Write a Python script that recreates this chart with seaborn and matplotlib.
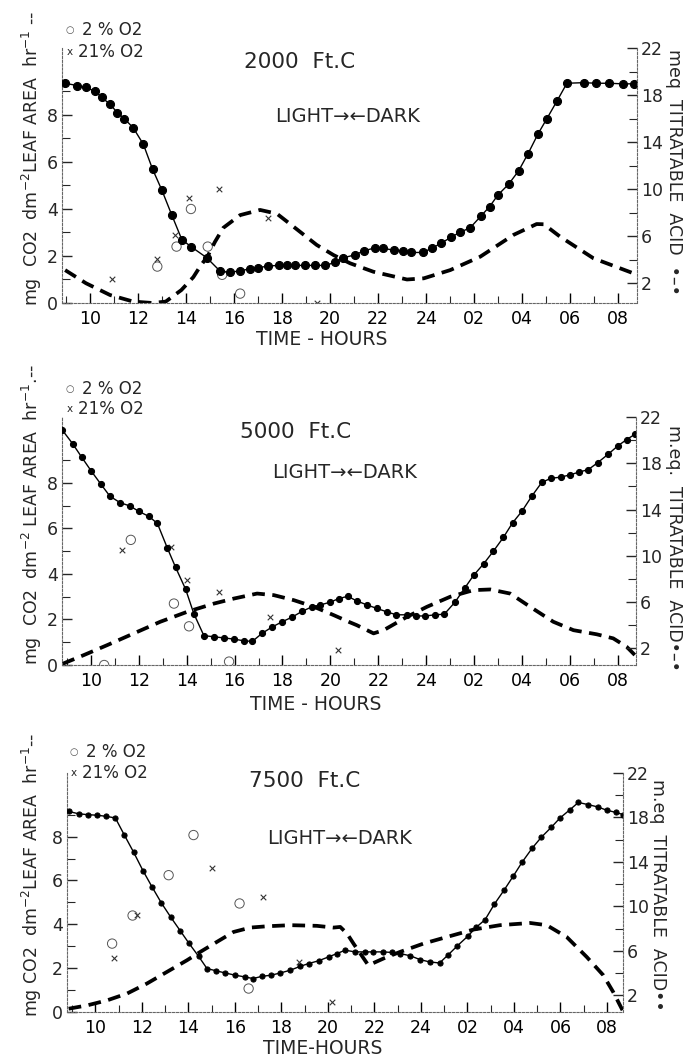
import numpy as np
import matplotlib
matplotlib.use("Agg")
import matplotlib.pyplot as plt
import seaborn as sns

# ---------------- data (time in continuous hours; 24+ = next day) ----------------
x_tick_hours = [10, 12, 14, 16, 18, 20, 22, 24, 26, 28, 30, 32]
x_tick_labels = ["10", "12", "14", "16", "18", "20", "22", "24", "02", "04", "06", "08"]
left_ticks = [0, 2, 4, 6, 8]
right_ticks = [2, 6, 10, 14, 18, 22]

titles = ["2000  Ft.C", "5000  Ft.C", "7500  Ft.C"]

# Panel 1 (2000 Ft.C)
p1_acid_t = [8.96, 9.47, 9.83, 10.21, 10.49, 10.83, 11.14, 11.42, 11.8, 12.22, 12.6, 12.99, 13.4, 13.82, 14.2,
             14.86, 15.42, 15.83, 16.25, 16.67, 17.0, 17.43, 17.85, 18.2, 18.54, 18.96, 19.38, 19.8, 20.2, 20.55,
             21.04, 21.42, 21.88, 22.22, 22.64, 23.03, 23.38, 23.85, 24.23, 24.63, 25.04, 25.39, 25.83, 26.28,
             26.64, 26.99, 27.43, 27.85, 28.24, 28.66, 29.03, 29.45, 29.86, 30.56, 31.08, 31.6, 32.2, 32.67]
p1_acid_v = [19.0, 18.8, 18.65, 18.3, 17.8, 17.2, 16.5, 16.0, 15.2, 13.8, 11.7, 9.9, 7.8, 5.7, 5.1,
             4.15, 3.0, 2.9, 3.05, 3.2, 3.3, 3.45, 3.5, 3.5, 3.5, 3.5, 3.5, 3.5, 3.75, 4.15,
             4.4, 4.75, 5.0, 4.95, 4.8, 4.75, 4.6, 4.6, 4.95, 5.4, 5.9, 6.3, 6.7, 7.7,
             8.5, 9.5, 10.4, 11.55, 13.0, 14.7, 16.0, 17.5, 19.0, 19.05, 19.0, 19.0, 18.95, 18.95]
p1_co2_t = [8.96, 9.83, 10.83, 11.8, 12.6, 13.15, 13.8, 14.3, 14.58, 14.9, 15.2, 15.55, 16.25, 17.08, 17.78,
            18.47, 19.44, 20.14, 20.83, 21.8, 23.2, 23.9, 25.0, 26.25, 27.64, 28.6, 28.9, 29.58, 30.97, 32.64]
p1_co2_v = [1.4, 0.84, 0.34, 0.06, 0.0, 0.06, 0.55, 1.1, 1.55, 2.0, 2.6, 3.2, 3.74, 3.96, 3.8,
            3.25, 2.47, 2.04, 1.69, 1.33, 1.0, 1.05, 1.4, 1.97, 2.9, 3.36, 3.35, 2.82, 1.9, 1.26]
p1_o2low_t = [12.8, 13.6, 14.2, 14.9, 15.5, 16.25]
p1_o2low_v = [1.55, 2.4, 4.0, 2.4, 1.2, 0.4]
p1_o2high_t = [10.9, 12.78, 13.54, 14.14, 15.35, 17.43, 19.44]
p1_o2high_v = [1.0, 1.86, 2.9, 4.45, 4.84, 3.6, 0.0]

# Panel 2 (5000 Ft.C)
p2_acid_t = [8.82, 9.24, 9.63, 10.03, 10.42, 10.8, 11.22, 11.64, 12.0, 12.43, 12.78, 13.19, 13.54, 13.96, 14.3,
             14.72, 15.14, 15.56, 15.97, 16.39, 16.74, 17.15, 17.57, 17.99, 18.4, 18.82, 19.24, 19.58, 20.0,
             20.35, 20.72, 21.1, 21.53, 21.94, 22.36, 22.75, 23.2, 23.58, 23.96, 24.37, 24.75, 25.2, 25.6,
             25.97, 26.39, 26.8, 27.22, 27.6, 27.99, 28.4, 28.82, 29.2, 29.61, 30.0, 30.39, 30.76, 31.15,
             31.6, 31.99, 32.36, 32.7]
p2_acid_v = [20.85, 19.7, 18.5, 17.3, 16.2, 15.15, 14.6, 14.3, 13.85, 13.4, 12.8, 10.7, 9.0, 7.1, 5.0,
             3.1, 3.0, 2.9, 2.8, 2.65, 2.6, 3.3, 3.85, 4.3, 4.7, 5.2, 5.6, 5.75, 6.0,
             6.3, 6.5, 6.1, 5.75, 5.45, 5.15, 4.9, 4.9, 4.8, 4.8, 4.9, 4.95, 6.0, 7.2,
             8.3, 9.3, 10.4, 11.6, 12.85, 13.85, 15.15, 16.35, 16.7, 16.8, 17.0, 17.25, 17.45, 18.05,
             18.8, 19.5, 20.05, 20.5]
p2_co2_t = [8.82, 9.72, 10.7, 11.8, 12.9, 14.03, 15.14, 15.97, 16.94, 17.64, 18.47, 19.31, 20.14, 20.76,
            21.1, 21.8, 22.22, 23.2, 24.03, 25.0, 25.97, 26.67, 27.5, 28.33, 29.3, 30.14, 31.11, 31.8, 32.36, 32.7]
p2_co2_v = [0.05, 0.44, 0.88, 1.39, 1.9, 2.34, 2.7, 2.92, 3.14, 3.07, 2.85, 2.56, 2.19, 1.9,
            1.75, 1.39, 1.53, 2.12, 2.56, 3.0, 3.29, 3.32, 3.14, 2.56, 1.9, 1.53, 1.35, 1.17, 0.8, 0.44]
p2_o2low_t = [10.56, 11.67, 13.47, 14.1, 15.77]
p2_o2low_v = [0.0, 5.5, 2.7, 1.7, 0.15]
p2_o2high_t = [8.85, 11.32, 13.33, 14.03, 15.35, 17.47, 20.3]
p2_o2high_v = [0.05, 5.04, 5.2, 3.73, 3.2, 2.12, 0.66]

# Panel 3 (7500 Ft.C)
p3_acid_t = [8.85, 9.28, 9.67, 10.07, 10.47, 10.86, 11.25, 11.65, 12.05, 12.45, 12.84, 13.25, 13.65, 14.03,
             14.44, 14.8, 15.19, 15.59, 16.02, 16.42, 16.78, 17.16, 17.55, 17.95, 18.38, 18.81, 19.17, 19.6,
             20.03, 20.39, 20.74, 21.17, 21.6, 21.96, 22.36, 22.75, 23.1, 23.54, 23.97, 24.37, 24.8, 25.18,
             25.57, 26.01, 26.37, 26.76, 27.16, 27.59, 27.98, 28.36, 28.79, 29.17, 29.6, 29.98, 30.41, 30.77,
             31.2, 31.6, 31.99, 32.39, 32.7]
p3_acid_v = [18.54, 18.33, 18.25, 18.2, 18.1, 17.95, 16.4, 14.85, 13.2, 11.7, 10.3, 9.0, 7.8, 6.66,
             5.5, 4.4, 4.2, 4.0, 3.8, 3.65, 3.5, 3.7, 3.8, 4.0, 4.25, 4.6, 4.85, 5.1,
             5.45, 5.75, 6.05, 5.9, 5.9, 5.9, 5.9, 5.85, 5.75, 5.55, 5.2, 5.0, 4.9, 5.65,
             6.45, 7.3, 8.1, 8.8, 10.2, 11.5, 12.75, 14.0, 15.25, 16.2, 17.1, 17.95, 18.7, 19.35,
             19.15, 18.95, 18.65, 18.45, 18.25]
p3_co2_t = [8.85, 9.64, 10.5, 11.36, 12.22, 13.08, 13.94, 14.51, 15.23, 15.94, 16.66, 17.38, 18.38, 19.52,
            20.24, 20.53, 20.82, 21.1, 21.74, 22.39, 23.1, 24.11, 25.11, 26.26, 27.4, 28.7, 29.41, 30.27,
            31.13, 31.84, 32.27, 32.67]
p3_co2_v = [0.15, 0.3, 0.53, 0.84, 1.3, 1.83, 2.36, 2.74, 3.2, 3.65, 3.85, 3.91, 3.96, 3.93,
            3.85, 3.88, 3.58, 3.12, 2.13, 2.44, 2.74, 3.12, 3.42, 3.76, 3.96, 4.06, 3.96, 3.42,
            2.51, 1.68, 0.91, 0.08]
p3_o2low_t = [10.72, 11.6, 13.15, 14.22, 16.2, 16.59]
p3_o2low_v = [3.12, 4.4, 6.24, 8.07, 4.95, 1.07]
p3_o2high_t = [10.8, 11.79, 15.01, 17.23, 18.74, 20.17]
p3_o2high_v = [2.45, 4.42, 6.55, 5.25, 2.28, 0.46]

# ---------------- styling ----------------
sns.set_theme(style="white")
plt.rcParams["font.family"] = ["DejaVu Sans"]
plt.rcParams["mathtext.fontset"] = "dejavusans"

W, H = 693, 1061
fig = plt.figure(figsize=(W / 100, H / 100), dpi=100)


def fx(px):
    return px / W


def fy(py):
    return 1 - py / H


def draw_panel(box, xlim, left_ylim, right_ylim, acid_t, acid_v, co2_t, co2_v,
               lo_t, lo_v, hi_t, hi_v, msize):
    l, t, r, b = box
    ax = fig.add_axes([fx(l), fy(b), fx(r) - fx(l), fy(t) - fy(b)])
    ax2 = ax.twinx()
    ax.set_facecolor("none")

    sns.lineplot(x=np.array(co2_t), y=np.array(co2_v), ax=ax, color="black", lw=2.7,
                 linestyle=(0, (3.4, 2.0)), errorbar=None)
    sns.scatterplot(x=np.array(lo_t), y=np.array(lo_v), ax=ax, marker="o", s=45,
                    facecolor="none", edgecolor="#555555", linewidth=0.7)
    sns.scatterplot(x=np.array(hi_t), y=np.array(hi_v), ax=ax, marker="x", s=16,
                    color="#333333", linewidth=0.8)
    sns.lineplot(x=np.array(acid_t), y=np.array(acid_v), ax=ax2, color="black", lw=1.0,
                 marker="o", markersize=msize, markeredgecolor="black", errorbar=None)

    ax.set_xlim(*xlim)
    ax.set_ylim(*left_ylim)
    ax2.set_ylim(*right_ylim)

    ax.set_xticks(x_tick_hours)
    ax.set_xticklabels(x_tick_labels)
    ax.set_xticks(np.arange(9, 33, 2), minor=True)
    ax.set_yticks(left_ticks)
    ax.set_yticks([1, 3, 5, 7, 9], minor=True)
    ax2.set_yticks(right_ticks)
    ax2.set_yticks([4, 8, 12, 16, 20], minor=True)

    for a in (ax, ax2):
        a.set_xlabel("")
        a.set_ylabel("")
        a.grid(False)
        a.spines["top"].set_visible(False)
    ax.spines["right"].set_visible(False)
    ax2.spines["left"].set_visible(False)
    ax2.spines["bottom"].set_visible(False)
    for sp in [ax.spines["left"], ax.spines["bottom"], ax2.spines["right"]]:
        sp.set_color("#666666")
        sp.set_linewidth(0.8)
        sp.set_linestyle((0, (2, 1.5)))

    ax.tick_params(axis="x", which="major", direction="in", length=7, width=1.0,
                   labelsize=12.5, pad=5, colors="black", bottom=True)
    ax.tick_params(axis="x", which="minor", direction="in", length=5, width=0.8, bottom=True)
    ax.tick_params(axis="y", which="major", direction="in", length=7, width=1.0,
                   labelsize=12.5, pad=3, left=True)
    ax.tick_params(axis="y", which="minor", direction="in", length=6, width=0.8, left=True)
    ax2.tick_params(axis="y", which="major", direction="in", length=7, width=1.0,
                    labelsize=12.5, pad=3, right=True)
    ax2.tick_params(axis="y", which="minor", direction="in", length=6, width=0.8, right=True)
    return ax, ax2


# panel boxes in pixels: left, top, right, bottom
draw_panel((62, 48, 637, 303), (8.83, 32.78), (0, 10.85), (0.3, 22),
           p1_acid_t, p1_acid_v, p1_co2_t, p1_co2_v, p1_o2low_t, p1_o2low_v, p1_o2high_t, p1_o2high_v, 5.8)
draw_panel((62, 417, 636, 665), (8.8, 32.75), (0, 10.9), (0.56, 22),
           p2_acid_t, p2_acid_v, p2_co2_t, p2_co2_v, p2_o2low_t, p2_o2low_v, p2_o2high_t, p2_o2high_v, 4.4)
draw_panel((67, 773, 623, 1012), (8.78, 32.69), (0, 10.9), (0.49, 22),
           p3_acid_t, p3_acid_v, p3_co2_t, p3_co2_v, p3_o2low_t, p3_o2low_v, p3_o2high_t, p3_o2high_v, 3.7)

# ---------------- texts ----------------
legend_y = [(30, 52), (389, 409), (752, 773)]
title_pos = [(300, 62), (296, 432), (305, 781)]
light_pos = [(348, 117), (345, 472), (340, 838)]
xlabel_pos = [(322, 340), (316, 704), (323, 1049)]
left_labels = ["mg  CO2  dm$^{-2}$LEAF AREA  hr$^{-1}$ --",
               "mg  CO2  dm$^{-2}$ LEAF AREA  hr$^{-1}$.--",
               "mg CO2  dm$^{-2}$LEAF AREA  hr$^{-1}$--"]
left_label_y = [158, 515, 875]
right_labels = ["meq  TITRATABLE  ACID  •–•",
                "m.eq.  TITRATABLE  ACID•–•",
                "m.eq  TITRATABLE  ACID••"]
right_label_pos = [(674, 172), (674, 548), (658, 895)]
xlabels = ["TIME - HOURS", "TIME - HOURS", "TIME-HOURS"]

for i in range(3):
    y1, y2 = legend_y[i]
    x0 = 70 if i < 2 else 74
    fig.text(fx(x0), fy(y1), "○", fontsize=7, ha="center", va="center", color="#555555")
    fig.text(fx(x0 + 12), fy(y1), "2 % O2", fontsize=12, ha="left", va="center")
    fig.text(fx(x0), fy(y2), "x", fontsize=7.5, ha="center", va="center")
    fig.text(fx(x0 + 8), fy(y2), "21% O2", fontsize=12, ha="left", va="center")
    fig.text(fx(title_pos[i][0]), fy(title_pos[i][1]), titles[i], fontsize=15.5,
             ha="center", va="center")
    fig.text(fx(light_pos[i][0]), fy(light_pos[i][1]), "LIGHT→←DARK", fontsize=14,
             ha="center", va="center")
    fig.text(fx(xlabel_pos[i][0]), fy(xlabel_pos[i][1]), xlabels[i], fontsize=13.5,
             ha="center", va="center")
    fig.text(fx(32), fy(left_label_y[i]), left_labels[i], fontsize=12.5, rotation=90,
             ha="center", va="center")
    fig.text(fx(right_label_pos[i][0]), fy(right_label_pos[i][1]), right_labels[i],
             fontsize=12.5, rotation=270, ha="center", va="center")

fig.savefig("out.png", dpi=100)
